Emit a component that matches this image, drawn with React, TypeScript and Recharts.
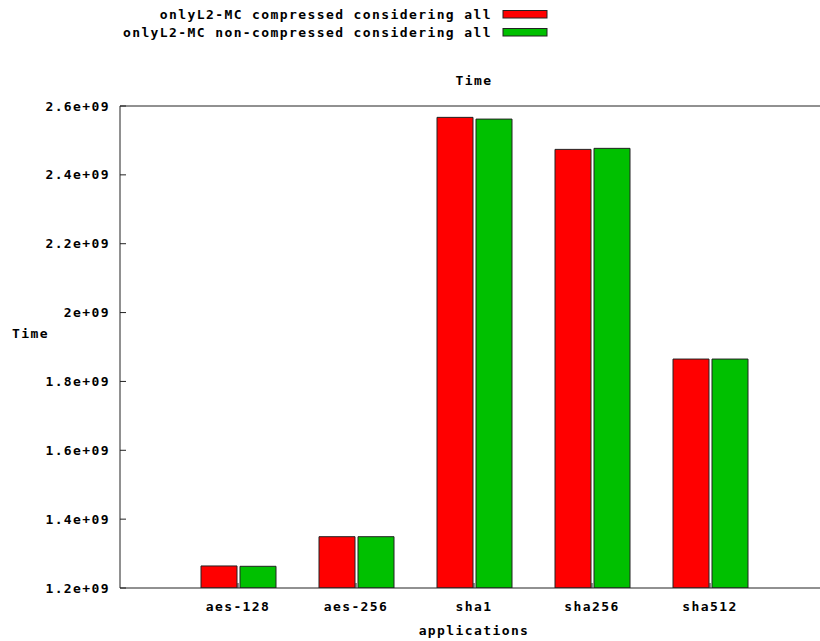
import { BarChart, Bar, XAxis, YAxis, Legend, Label } from "recharts";

const apps = ["aes-128", "aes-256", "sha1", "sha256", "sha512"];
const appPos = [1, 2, 3, 4, 5];
const compressed = [1.264e9, 1.349e9, 2.567e9, 2.474e9, 1.865e9];
const nonCompressed = [1.263e9, 1.349e9, 2.562e9, 2.477e9, 1.865e9];
const yTicks = [1.2e9, 1.4e9, 1.6e9, 1.8e9, 2.0e9, 2.2e9, 2.4e9, 2.6e9];
const seriesNames = [
  "onlyL2-MC compressed considering all",
  "onlyL2-MC non-compressed considering all",
];
const colors = ["#ff0000", "#00c000"];

const data = apps.map((name, i) => ({
  pos: appPos[i],
  name,
  compressed: compressed[i],
  nonCompressed: nonCompressed[i],
}));

const FONT = "'DejaVu Sans Mono', monospace";
const textStyle = {
  fontFamily: FONT,
  fontWeight: "bold" as const,
  fontSize: 13,
  letterSpacing: 1.4,
  fill: "#000",
};

// gnuplot-ish %g formatting: 2e+09, 1.2e+09
function fmt(v: number) {
  return (v / 1e9).toFixed(1).replace(/\.0$/, "") + "e+09";
}

function LegendBox() {
  return (
    <svg width={820} height={90}>
      {seriesNames.map((n, i) => (
        <g key={n}>
          <text x={492} y={19 + 18 * i} textAnchor="end" style={textStyle}>
            {n}
          </text>
          <rect x={503} y={10.5 + 18 * i} width={44} height={7.5} fill={colors[i]} stroke="#222" />
        </g>
      ))}
      <text x={474} y={85} textAnchor="middle" style={textStyle}>
        Time
      </text>
    </svg>
  );
}

export default function App() {
  return (
    <div style={{ position: "absolute", left: 0, top: 0, width: 820, height: 641, background: "#fff" }}>
      <BarChart
        width={820}
        height={641}
        data={data}
        margin={{ top: 105, right: -8, left: 0, bottom: 0 }}
        barGap={3}
      >
        <Legend
          layout="vertical"
          align="center"
          verticalAlign="middle"
          wrapperStyle={{ position: "absolute", top: 0, left: 0, width: 820, height: 90 }}
          content={() => <LegendBox />}
        />
        <XAxis
          dataKey="pos"
          type="number"
          domain={[0, 6]}
          ticks={appPos}
          tickFormatter={(v: number) => apps[v - 1]}
          height={53}
          tickSize={-5}
          tickMargin={19}
          tick={textStyle}
          axisLine={{ stroke: "#222" }}
          tickLine={{ stroke: "#222" }}
        >
          <Label
            content={({ viewBox }: any) => (
              <text x={474} y={viewBox.y + 47} textAnchor="middle" style={textStyle}>
                applications
              </text>
            )}
          />
        </XAxis>
        <XAxis
          xAxisId="top"
          orientation="top"
          dataKey="pos"
          type="number"
          domain={[0, 6]}
          ticks={appPos}
          height={1}
          tick={false}
          tickSize={-5}
          axisLine={{ stroke: "#222" }}
          tickLine={{ stroke: "#222" }}
        />
        <YAxis
          domain={[1.2e9, 2.6e9]}
          ticks={yTicks}
          allowDataOverflow
          width={120}
          tickFormatter={fmt}
          tickSize={-6}
          tickMargin={16}
          tick={textStyle}
          axisLine={{ stroke: "#222" }}
          tickLine={{ stroke: "#222" }}
        >
          <Label
            content={({ viewBox }: any) => (
              <text x={12} y={viewBox.y + viewBox.height / 2 - 9} style={textStyle}>
                Time
              </text>
            )}
          />
        </YAxis>
        <Bar
          dataKey="compressed"
          name={seriesNames[0]}
          fill={colors[0]}
          stroke="#222"
          strokeWidth={1}
          barSize={36}
          isAnimationActive={false}
        />
        <Bar
          dataKey="nonCompressed"
          name={seriesNames[1]}
          fill={colors[1]}
          stroke="#222"
          strokeWidth={1}
          barSize={36}
          isAnimationActive={false}
        />
      </BarChart>
    </div>
  );
}
